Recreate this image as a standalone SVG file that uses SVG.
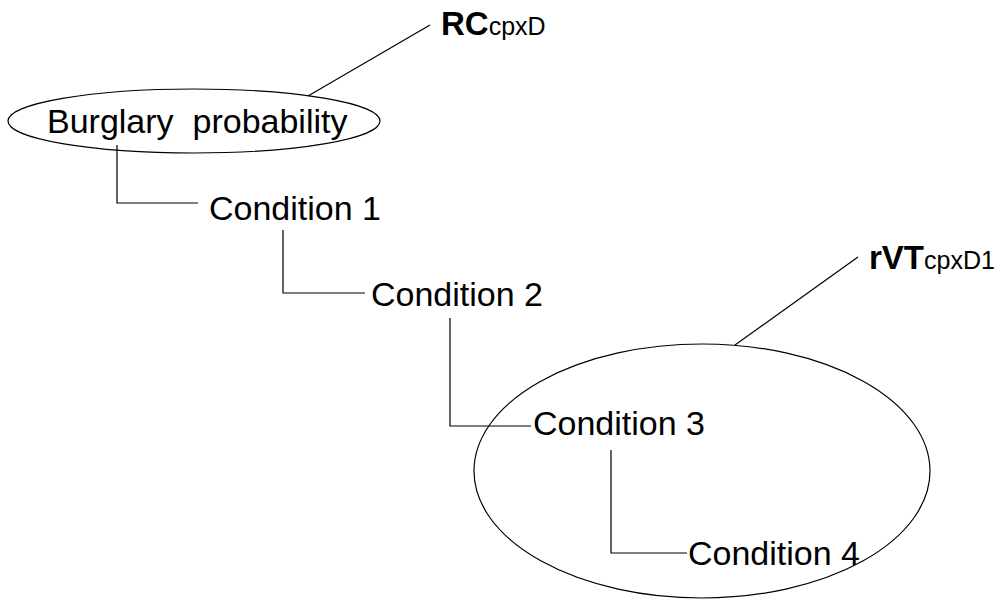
<svg xmlns="http://www.w3.org/2000/svg" width="1006" height="599" viewBox="0 0 1006 599">
<style>
.t{font-family:"Liberation Sans",Arial,sans-serif;font-size:34px;fill:#000;white-space:pre}
.b{font-weight:bold;font-size:33px}
.s{font-weight:normal;font-size:25px}
.ln{fill:none;stroke:#000;stroke-width:1.2}
</style>
<rect width="1006" height="599" fill="#fff"/>
<g id="connectors">
<path class="ln" d="M430,25 L308,96"/>
<path class="ln" d="M858,257 L735,345"/>
<path class="ln" d="M117,145 V203 H198"/>
<path class="ln" d="M283,230 V293 H365"/>
<path class="ln" d="M450,318 V426 H531"/>
<path class="ln" d="M611,450 V553 H687"/>
</g>
<g id="burglary">
<ellipse class="ln" cx="194" cy="121" rx="186" ry="32"/>
<text class="t" x="47" y="133">Burglary  probability</text>
</g>
<g id="rc-label">
<text class="t b" x="441" y="35">RC<tspan class="s">cpxD</tspan></text>
</g>
<g id="cond1"><text class="t" x="209" y="220">Condition 1</text></g>
<g id="cond2"><text class="t" x="371" y="306">Condition 2</text></g>
<g id="rvt-group">
<ellipse class="ln" cx="702" cy="471" rx="228" ry="127"/>
</g>
<g id="rvt-label">
<text class="t b" x="869" y="269">rVT<tspan class="s">cpxD1</tspan></text>
</g>
<g id="cond3"><text class="t" x="533" y="435">Condition 3</text></g>
<g id="cond4"><text class="t" x="688" y="565">Condition 4</text></g>
</svg>
